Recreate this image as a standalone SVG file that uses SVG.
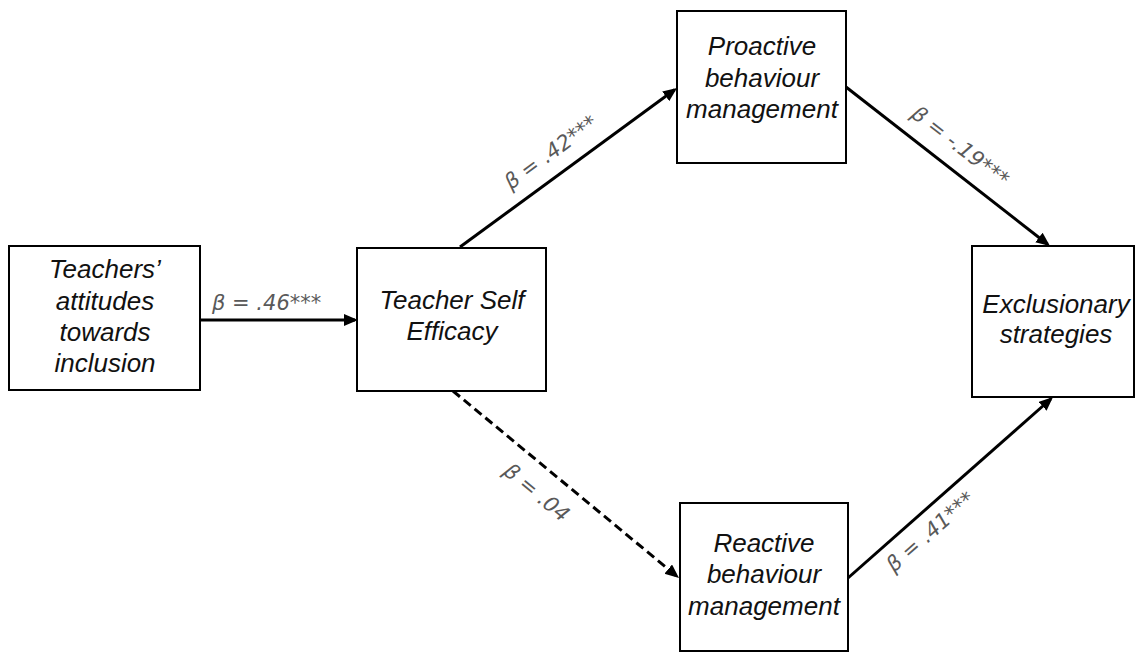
<svg xmlns="http://www.w3.org/2000/svg" width="1135" height="653" viewBox="0 0 1135 653">
<style>
.box{fill:#fff;stroke:#000;stroke-width:2}
.nt{font-family:"Liberation Sans",Arial,sans-serif;font-style:italic;font-size:26px;fill:#111;text-anchor:middle}
.edge{stroke:#000;stroke-width:3;fill:none;marker-end:url(#ah)}
.dash{stroke-dasharray:9 5}
.lbl{font-family:"DejaVu Sans",sans-serif;font-style:oblique;font-size:21px;fill:#595959}
.mid{text-anchor:middle}
</style>
<defs>
<marker id="ah" markerUnits="userSpaceOnUse" markerWidth="15" markerHeight="13" refX="11" refY="6" orient="auto">
<path d="M0,0 L14,6 L0,12 z" fill="#000"/>
</marker>
</defs>
<rect width="1135" height="653" fill="#fff"/>
<g id="connectors">
<line class="edge" x1="200" y1="320" x2="355" y2="320"/>
<line class="edge" x1="460" y1="247" x2="674.6" y2="89.8"/>
<line class="edge" x1="846" y1="87" x2="1047.6" y2="244.2"/>
<line class="edge dash" x1="453" y1="391" x2="676.7" y2="576.1"/>
<line class="edge" x1="848" y1="578" x2="1050.8" y2="399"/>
<text class="lbl" x="212" y="310">β = .46***</text>
<text class="lbl mid" transform="translate(555,158) rotate(-36.2)">β = .42***</text>
<text class="lbl mid" transform="translate(956,152) rotate(37.8)">β = -.19***</text>
<text class="lbl mid" transform="translate(532,498) rotate(39.6)">β = .04</text>
<text class="lbl mid" transform="translate(935,537) rotate(-41.3)">β = .41***</text>
</g>
<g id="attitudes">
<rect class="box" x="9" y="246" width="191" height="144"/>
<text class="nt" x="105" y="278">Teachers’</text>
<text class="nt" x="105" y="310">attitudes</text>
<text class="nt" x="105" y="341">towards</text>
<text class="nt" x="105" y="372">inclusion</text>
</g>
<g id="selfefficacy">
<rect class="box" x="357" y="248" width="189" height="143"/>
<text class="nt" x="452" y="309">Teacher Self</text>
<text class="nt" x="452" y="340">Efficacy</text>
</g>
<g id="proactive">
<rect class="box" x="677" y="11" width="169" height="152"/>
<text class="nt" x="762" y="55">Proactive</text>
<text class="nt" x="762" y="87">behaviour</text>
<text class="nt" x="762" y="118">management</text>
</g>
<g id="reactive">
<rect class="box" x="680" y="503" width="168" height="148"/>
<text class="nt" x="764" y="552">Reactive</text>
<text class="nt" x="764" y="583">behaviour</text>
<text class="nt" x="764" y="615">management</text>
</g>
<g id="exclusionary">
<rect class="box" x="972" y="246" width="162" height="151"/>
<text class="nt" x="1056" y="313">Exclusionary</text>
<text class="nt" x="1056" y="343">strategies</text>
</g>
</svg>
